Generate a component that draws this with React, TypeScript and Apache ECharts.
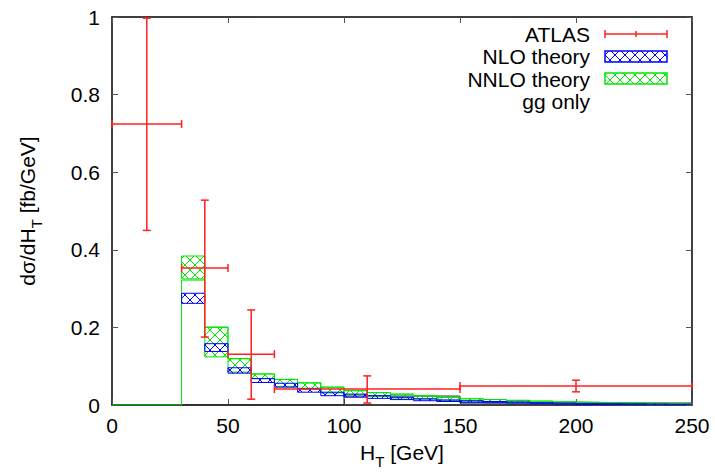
import React, { useEffect, useRef } from "react";
import * as echarts from "echarts";

// ---------------- data ----------------
const theoryEdges = [30, 40, 50, 60, 70, 80, 90, 100, 110, 120, 130, 140, 150, 160, 170, 180, 190, 200, 210, 220, 230, 240, 250];
const nloLow = [0.262, 0.138, 0.082, 0.058, 0.046, 0.033, 0.024, 0.02, 0.017, 0.014, 0.011, 0.009, 0.007, 0.006, 0.005, 0.004, 0.003, 0.0025, 0.002, 0.0015, 0.001, 0.001];
const nloHigh = [0.288, 0.158, 0.096, 0.068, 0.056, 0.043, 0.033, 0.028, 0.024, 0.02, 0.016, 0.013, 0.011, 0.009, 0.008, 0.006, 0.005, 0.004, 0.0035, 0.003, 0.0025, 0.002];
const nnloLow = [0.325, 0.124, 0.085, 0.068, 0.048, 0.04, 0.031, 0.026, 0.022, 0.018, 0.015, 0.012, 0.01, 0.008, 0.007, 0.006, 0.005, 0.004, 0.003, 0.0025, 0.002, 0.0015];
const nnloHigh = [0.384, 0.201, 0.119, 0.08, 0.066, 0.057, 0.046, 0.037, 0.032, 0.028, 0.024, 0.02, 0.016, 0.014, 0.012, 0.01, 0.008, 0.007, 0.006, 0.005, 0.004, 0.0035];

const nnloLineEdges = [0, 30, 40, 50, 60, 70, 80, 90, 100, 110, 120, 130, 140, 150, 160, 170, 180, 190, 200, 210, 220, 230, 240, 250];
const nnloLine = [0, 0.322, 0.2, 0.12, 0.08, 0.066, 0.057, 0.046, 0.037, 0.032, 0.028, 0.024, 0.02, 0.016, 0.014, 0.012, 0.01, 0.008, 0.007, 0.006, 0.005, 0.004, 0.0035];

const ggEdges = [0, 30, 50, 70, 100, 150, 250];
const ggOnly = [0, 0, 0, 0, 0.023, 0.005];

const atlasXLow = [0, 30, 50, 70, 150];
const atlasXHigh = [30, 50, 70, 150, 250];
const atlasX = [15, 40, 60, 110, 200];
const atlasY = [0.724, 0.353, 0.131, 0.041, 0.049];
const atlasYLow = [0.45, 0.175, 0.015, 0.005, 0.034];
const atlasYHigh = [0.997, 0.528, 0.245, 0.075, 0.064];

const legendNames = ["ATLAS", "NLO theory", "NNLO theory", "gg only"];

// ---------------- styles ----------------
const FONT = '"Liberation Sans", Arial, Helvetica, sans-serif';
const RED = "#ff2020";
const BLUE = "#0000ff";
const GREEN = "#00e600";

function makeHatch(color: string) {
  const c = document.createElement("canvas");
  c.width = 10;
  c.height = 10;
  const ctx = c.getContext("2d")!;
  ctx.strokeStyle = color;
  ctx.lineWidth = 1;
  ctx.beginPath();
  ctx.moveTo(0, 0);
  ctx.lineTo(10, 10);
  ctx.moveTo(10, 0);
  ctx.lineTo(0, 10);
  ctx.stroke();
  return { image: c, repeat: "repeat", imageWidth: 10, imageHeight: 10 } as any;
}

function stepData(edges: number[], vals: number[]) {
  const d = vals.map((v, i) => [edges[i], v]);
  d.push([edges[edges.length - 1], vals[vals.length - 1]]);
  return d;
}

function bandData(lo: number[], hi: number[]) {
  return lo.map((l, i) => [theoryEdges[i], theoryEdges[i + 1], l, hi[i]]);
}

export default function App() {
  const ref = useRef<HTMLDivElement>(null);
  useEffect(() => {
    if (!ref.current) return;
    const chart = echarts.init(ref.current, null, { renderer: "svg" });
    const blueHatch = makeHatch(BLUE);
    const greenHatch = makeHatch(GREEN);

    const bandSeries = (name: string, data: number[][], pat: any, color: string) => ({
      type: "custom",
      name,
      xAxisIndex: 0,
      yAxisIndex: 0,
      clip: true,
      encode: { x: [0, 1], y: [2, 3] },
      data,
      renderItem: (params: any, api: any) => {
        const p1 = api.coord([api.value(0), api.value(3)]);
        const p2 = api.coord([api.value(1), api.value(2)]);
        return {
          type: "rect",
          shape: { x: p1[0], y: p1[1], width: p2[0] - p1[0], height: Math.max(p2[1] - p1[1], 1) },
          style: { fill: pat, stroke: color, lineWidth: 1 },
        };
      },
    });

    const atlasData = atlasX.map((x, i) => [x, atlasY[i], atlasXLow[i], atlasXHigh[i], atlasYLow[i], atlasYHigh[i]]);

    const axisCommon = {
      axisLine: { show: true, onZero: false, lineStyle: { color: "#000", width: 1.5 } },
      axisTick: { show: true, inside: true, length: 6, lineStyle: { color: "#555", width: 1 } },
      splitLine: { show: false },
    };

    const richName = {
      a: { fontSize: 21, fontFamily: FONT, color: "#000", padding: [0, 0, 6, 0], verticalAlign: "bottom" },
      s: { fontSize: 15, fontFamily: FONT, color: "#000", verticalAlign: "bottom" },
    };

    chart.setOption({
      animation: false,
      grid: { left: 112, right: 23, top: 17, bottom: 67, containLabel: false, outerBoundsMode: "none" },
      xAxis: [
        {
          type: "value",
          min: 0,
          max: 250,
          interval: 50,
          position: "bottom",
          ...axisCommon,
          axisLabel: { color: "#000", fontSize: 21, fontFamily: FONT, margin: 10 },
          name: "{a|H}{s|T}{a| [GeV]}",
          nameLocation: "middle",
          nameGap: 37,
          nameTextStyle: { rich: richName },
        },
        {
          type: "value",
          min: 0,
          max: 250,
          interval: 50,
          position: "top",
          ...axisCommon,
          axisLabel: { show: false },
        },
      ],
      yAxis: [
        {
          type: "value",
          min: 0,
          max: 1,
          interval: 0.2,
          position: "left",
          ...axisCommon,
          axisLabel: { color: "#000", fontSize: 21, fontFamily: FONT, margin: 12 },
          name: "{a|dσ/dH}{s|T}{a| [fb/GeV]}",
          nameLocation: "middle",
          nameRotate: 90,
          nameGap: 68,
          nameTextStyle: { rich: richName },
        },
        {
          type: "value",
          min: 0,
          max: 1,
          interval: 0.2,
          position: "right",
          ...axisCommon,
          axisLabel: { show: false },
        },
      ],
      series: [
        {
          type: "line",
          name: "gg only",
          step: "end",
          data: stepData(ggEdges, ggOnly),
          symbol: "none",
          lineStyle: { color: "#222", width: 1 },
          z: 1,
        },
        { ...bandSeries("NNLO theory", bandData(nnloLow, nnloHigh), greenHatch, GREEN), z: 2 },
        {
          type: "line",
          name: "NNLO line",
          step: "end",
          data: stepData(nnloLineEdges, nnloLine),
          symbol: "none",
          lineStyle: { color: GREEN, width: 1 },
          z: 3,
        },
        { ...bandSeries("NLO theory", bandData(nloLow, nloHigh), blueHatch, BLUE), z: 4 },
        {
          type: "custom",
          name: "ATLAS",
          z: 5,
          clip: false,
          encode: { x: [0, 2, 3], y: [1, 4, 5] },
          data: atlasData,
          renderItem: (params: any, api: any) => {
            const l = api.coord([api.value(2), api.value(1)]);
            const r = api.coord([api.value(3), api.value(1)]);
            const b = api.coord([api.value(0), api.value(4)]);
            const t = api.coord([api.value(0), api.value(5)]);
            const st = { stroke: RED, lineWidth: 1.5 };
            const cap = 4;
            const mk = (x1: number, y1: number, x2: number, y2: number) => ({ type: "line", shape: { x1, y1, x2, y2 }, style: st });
            return {
              type: "group",
              children: [
                mk(l[0], l[1], r[0], r[1]),
                mk(l[0], l[1] - cap, l[0], l[1] + cap),
                mk(r[0], r[1] - cap, r[0], r[1] + cap),
                mk(b[0], b[1], t[0], t[1]),
                mk(b[0] - cap, b[1], b[0] + cap, b[1]),
                mk(t[0] - cap, t[1], t[0] + cap, t[1]),
              ],
            };
          },
        },
      ],
      graphic: [
        ...legendNames.map((n, i) => ({
          type: "text",
          x: 590,
          y: 34 + i * 22.5,
          style: { text: n, align: "right", verticalAlign: "middle", fontSize: 21, fontFamily: FONT, fill: "#000" },
        })),
        { type: "line", shape: { x1: 605, y1: 34, x2: 667, y2: 34 }, style: { stroke: RED, lineWidth: 1.5 } },
        { type: "line", shape: { x1: 605, y1: 30, x2: 605, y2: 38 }, style: { stroke: RED, lineWidth: 1.5 } },
        { type: "line", shape: { x1: 667, y1: 30, x2: 667, y2: 38 }, style: { stroke: RED, lineWidth: 1.5 } },
        { type: "line", shape: { x1: 636, y1: 31, x2: 636, y2: 37 }, style: { stroke: RED, lineWidth: 1.5 } },
        { type: "rect", shape: { x: 605, y: 51, width: 62, height: 11 }, style: { fill: blueHatch, stroke: BLUE, lineWidth: 1.5 } },
        { type: "rect", shape: { x: 605, y: 73, width: 62, height: 11 }, style: { fill: greenHatch, stroke: GREEN, lineWidth: 1.5 } },
      ],
    });
    return () => chart.dispose();
  }, []);
  return <div ref={ref} style={{ position: "absolute", left: 0, top: 0, width: 715, height: 472 }} />;
}
